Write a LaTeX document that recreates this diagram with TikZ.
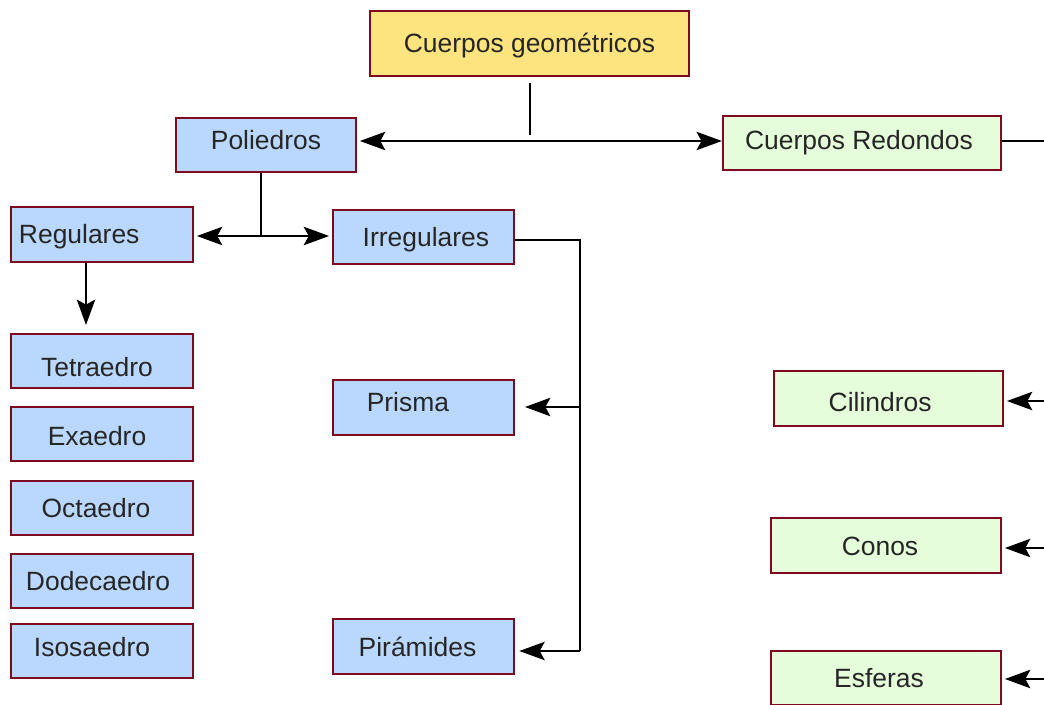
\documentclass[tikz,border=0pt]{standalone}
\usepackage{fontspec}
\setmainfont{Liberation Sans}
\usetikzlibrary{arrows.meta}

\definecolor{boxborder}{HTML}{7D0A1E}
\definecolor{boxyellow}{HTML}{FDE47F}
\definecolor{boxblue}{HTML}{BAD8FD}
\definecolor{boxgreen}{HTML}{E5FDDA}
\definecolor{txtgray}{HTML}{262626}

\begin{document}
\begin{tikzpicture}[x=0.025cm, y=-0.025cm,
    box/.style={draw=boxborder, line width=1.5pt, text=txtgray, inner sep=0pt,
        minimum width=4.55cm, minimum height=1.36cm, text height=13.5pt, text depth=0pt,
        font=\fontsize{18.8}{22}\selectfont},
    poly/.style={box, fill=boxblue},
    round/.style={box, fill=boxgreen},
    link/.style={line width=1.8pt},
    arr/.style={link, -{Stealth[length=18pt, width=13pt, inset=3.5pt]}},
    biarr/.style={link, {Stealth[length=18pt, width=13pt, inset=3.5pt]}-{Stealth[length=18pt, width=13pt, inset=3.5pt]}}]
    \useasboundingbox (0,0) rectangle (1044,704);

    % Main box
    \node (geo) at (529.5,43.5) [box, fill=boxyellow, minimum width=7.975cm, minimum height=1.625cm] {Cuerpos geométricos};

    % First level
    \node (poli) at (266,145) [poly, minimum width=4.5cm, text depth=7pt] {Poliedros};
    \node (redondos) at (862,143) [round, minimum width=6.95cm, text depth=4pt] {Cuerpos Redondos\hspace*{0.15cm}};

    % Polyhedra
    \node (reg) at (102,234.5) [poly, text width=4.15cm, align=left, inner xsep=0.2cm] {Regulares};
    \node (irr) at (423.5,237) [poly, minimum width=4.525cm] {\hspace*{0.12cm}Irregulares};
    \node (tetra) at (102,361) [poly, text height=22pt] {Tetraedro\hspace*{0.25cm}};
    \node (exa) at (102,434) [poly, text height=16.5pt] {Exaedro\hspace*{0.25cm}};
    \node (octa) at (102,508) [poly] {Octaedro\hspace*{0.3cm}};
    \node (dodeca) at (102,581) [poly] {Dodecaedro\hspace*{0.2cm}};
    \node (isos) at (102,651) [poly, text depth=5.5pt] {Isosaedro\hspace*{0.5cm}};
    \node (prisma) at (423.5,407.5) [poly, minimum width=4.525cm, text depth=7.8pt] {Prisma\hspace*{0.78cm}};
    \node (piram) at (423.5,646.5) [poly, minimum width=4.525cm] {Pirámides\hspace*{0.3cm}};

    % Round bodies
    \node (cil) at (888.5,398.5) [round, minimum width=5.725cm, text height=18.5pt] {Cilindros\hspace*{0.42cm}};
    \node (conos) at (886,545.5) [round, minimum width=5.75cm] {Conos\hspace*{0.3cm}};
    \node (esf) at (886,678) [round, minimum width=5.75cm] {Esferas\hspace*{0.35cm}};

    % Junction points
    \coordinate (top) at (530,83);
    \coordinate (topj) at (530,135);
    \coordinate (hline) at (530,141);
    \coordinate (redout) at (1050,141);
    \coordinate (pj) at (261,236);
    \coordinate (regd) at (86,325);
    \coordinate (ij) at (580,240);
    \coordinate (prj) at (580,407);
    \coordinate (pij) at (580,651);
    \coordinate (cilin) at (1050,401);
    \coordinate (conin) at (1050,548);
    \coordinate (esfin) at (1050,679);

    % Connectors from the main box
    \draw[link] (top) -- (topj);
    \draw[biarr, shorten <=2pt] (poli.east |- hline) -- (redondos.west |- hline);
    \draw[link] (redondos.east |- hline) -- (redout);

    % Poliedros
    \draw[link] (poli.south -| pj) -- (pj);
    \draw[biarr, shorten <=2pt, shorten >=2pt] (reg.east |- pj) -- (irr.west |- pj);
    \draw[arr] (regd |- reg.south) -- (regd);

    % Irregulares
    \draw[link] (irr.east |- ij) -- (ij) -- (pij);
    \draw[arr, shorten >=7pt] (prj) -- (prisma.east |- prj);
    \draw[arr, shorten >=3pt] (pij) -- (piram.east |- pij);

    % Cuerpos redondos
    \draw[arr, shorten >=2pt] (cilin) -- (cil.east |- cilin);
    \draw[arr, shorten >=2pt] (conin) -- (conos.east |- conin);
    \draw[arr, shorten >=2pt] (esfin) -- (esf.east |- esfin);
\end{tikzpicture}
\end{document}
